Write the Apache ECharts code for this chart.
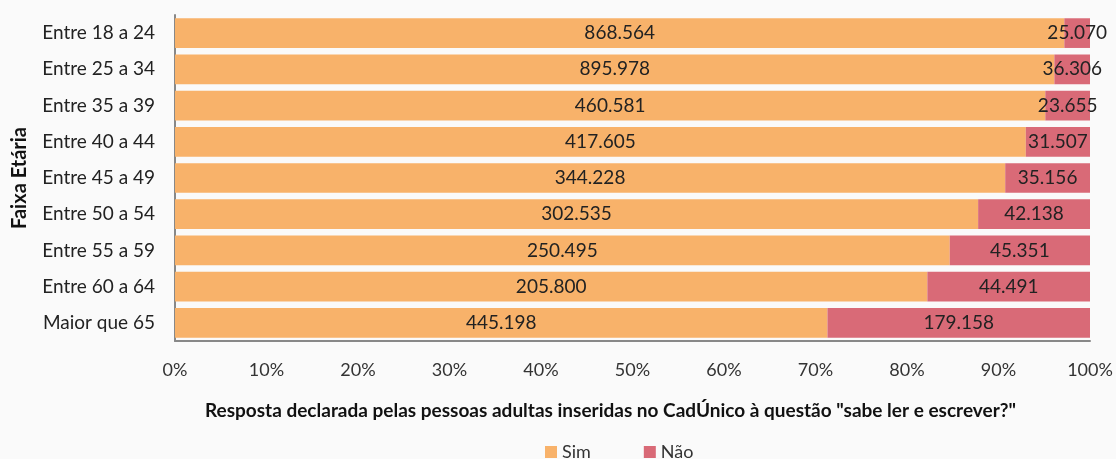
<!DOCTYPE html>
<html>
<head>
<meta charset="utf-8">
<script src="https://cdn.jsdelivr.net/npm/echarts@6/dist/echarts.min.js"></script>
<style>
  html, body { margin: 0; padding: 0; background: #fafafa; }
  #chart { width: 1116px; height: 459px; }
</style>
</head>
<body>
<div id="chart"></div>
<script>
// age groups, top to bottom as in the picture
const faixas = ['Entre 18 a 24', 'Entre 25 a 34', 'Entre 35 a 39', 'Entre 40 a 44', 'Entre 45 a 49',
  'Entre 50 a 54', 'Entre 55 a 59', 'Entre 60 a 64', 'Maior que 65'];
const sim = [868564, 895978, 460581, 417605, 344228, 302535, 250495, 205800, 445198];
const nao = [25070, 36306, 23655, 31507, 35156, 42138, 45351, 44491, 179158];

const fmt = v => v.toLocaleString('pt-BR');
const font = 'Lato, "Open Sans", sans-serif';

// category axis goes bottom-up, so reverse
const cats = faixas.slice().reverse();
const simR = sim.slice().reverse();
const naoR = nao.slice().reverse();
const simPct = simR.map((v, i) => v / (v + naoR[i]) * 100);
const naoPct = naoR.map((v, i) => v / (v + simR[i]) * 100);

const chart = echarts.init(document.getElementById('chart'));
chart.setOption({
  backgroundColor: '#fafafa',
  textStyle: { fontFamily: font },
  grid: { left: 175, right: 26, top: 15, bottom: 118, containLabel: false, outerBoundsMode: 'none' },
  legend: {
    bottom: -7,
    left: 540,
    itemWidth: 12, itemHeight: 12, itemGap: 53,
    icon: 'rect',
    textStyle: { fontSize: 18, color: '#333', fontFamily: font },
    data: ['Sim', 'Não']
  },
  xAxis: {
    type: 'value', min: 0, max: 100, interval: 10,
    name: 'Resposta declarada pelas pessoas adultas inseridas no CadÚnico à questão "sabe ler e escrever?"',
    nameLocation: 'middle', nameGap: 60,
    nameTextStyle: { fontSize: 19, fontWeight: 'bold', color: '#111', fontFamily: font, padding: [0, 44, 0, 0] },
    axisLabel: { formatter: '{value}%', fontSize: 18, color: '#333', margin: 20 },
    axisLine: { show: true, lineStyle: { color: '#888', width: 2 } },
    axisTick: { show: false },
    splitLine: { show: false }
  },
  yAxis: {
    type: 'category', data: cats,
    name: 'Faixa Etária', nameLocation: 'middle', nameGap: 145, nameRotate: 90,
    nameTextStyle: { fontSize: 20, fontWeight: 'bold', color: '#111', fontFamily: font },
    axisLabel: { fontSize: 19, color: '#222', margin: 20 },
    axisLine: { lineStyle: { color: '#888', width: 2 } },
    axisTick: { show: false }
  },
  series: [
    {
      name: 'Sim', type: 'bar', stack: 'total', barCategoryGap: '18%',
      data: simPct,
      itemStyle: { color: '#F8B26A' },
      label: {
        show: true, position: 'inside', fontSize: 19, color: '#222',
        formatter: p => fmt(simR[p.dataIndex])
      }
    },
    {
      name: 'Não', type: 'bar', stack: 'total',
      data: naoPct,
      itemStyle: { color: '#D96A77' },
      label: {
        show: true, position: 'inside', fontSize: 19, color: '#222',
        formatter: p => fmt(naoR[p.dataIndex])
      },
      labelLayout: { hideOverlap: false }
    }
  ]
});
</script>
</body>
</html>
